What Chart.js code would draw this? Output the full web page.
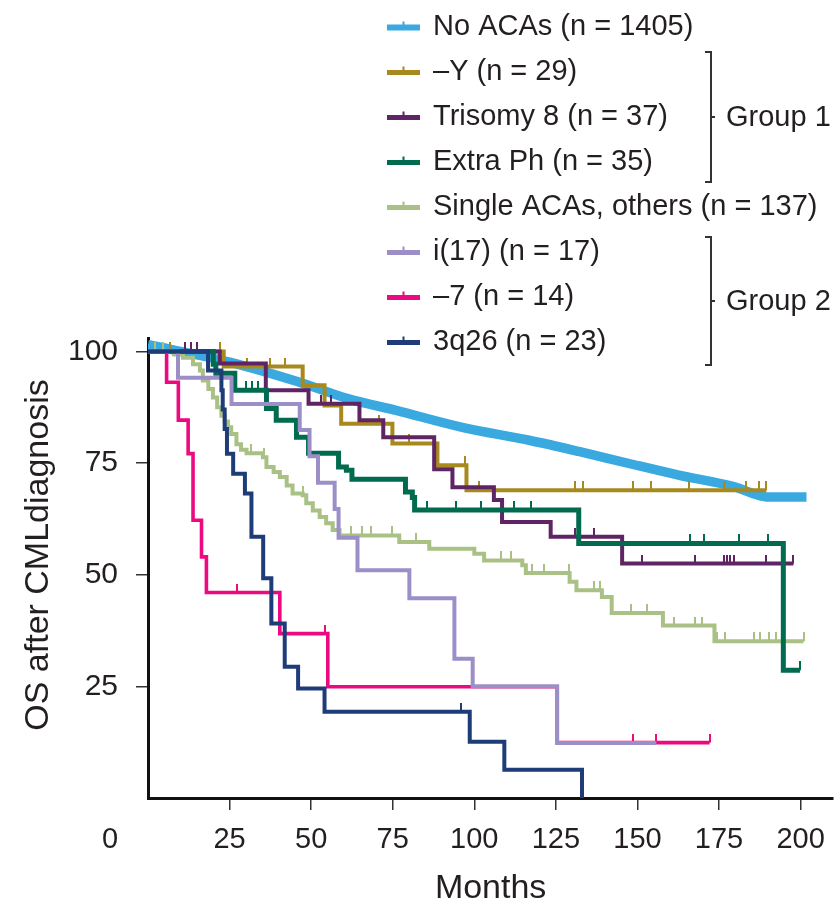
<!DOCTYPE html>
<html>
<head>
<meta charset="utf-8">
<script src="https://cdn.jsdelivr.net/npm/chart.js@4.4.1/dist/chart.umd.min.js"></script>
<style>
html,body{margin:0;padding:0;background:#fff;}
#wrap{width:838px;height:906px;position:relative;}
</style>
</head>
<body>
<div id="wrap"><canvas id="c" width="838" height="906"></canvas></div>
<script>
// ---------- text ----------
const seriesLabels = ['No ACAs (n = 1405)', '\u2013Y (n = 29)', 'Trisomy 8 (n = 37)', 'Extra Ph (n = 35)',
  'Single ACAs, others (n = 137)', 'i(17) (n = 17)', '\u20137 (n = 14)', '3q26 (n = 23)'];
const groupLabels = ['Group 1', 'Group 2'];
const xTickValues = [25, 50, 75, 100, 125, 150, 175, 200];
const yTickValues = [25, 50, 75, 100];
const originLabel = '0';
const xTitle = 'Months';
const yTitle = 'OS after CMLdiagnosis';

// ---------- data (months at which OS % takes the given value) ----------
const noAcaMonths = [0, 25, 45.5, 61.8, 76, 96.3, 116.8, 132, 147.4, 162.6, 180, 187, 190, 201.8];
const noAcaOS     = [101.5, 97.6, 93.3, 89.3, 86.8, 83.0, 80.1, 77.6, 74.9, 72.3, 69.6, 67.8, 67.4, 67.4];

const minusYMonths = [0, 23.2, 47.4, 54.1, 59.2, 74.9, 88.7, 97.6, 189.5];
const minusYOS     = [100, 96.6, 92.4, 87.9, 83.8, 79.4, 74.5, 68.9, 68.9];
const minusYCensor = [6.7, 22.0, 30.3, 37.3, 41.9, 70.9, 80.1, 97.0, 101.5, 131.0, 133.2, 148.5, 154.0, 165.8, 176.5, 183.2, 187.2, 189.5];

const tri8Months = [0, 22, 36.1, 49.2, 64.8, 72.1, 87.7, 93.3, 106, 108.5, 123.4, 145.3, 197.8];
const tri8OS     = [100, 97.3, 91.3, 88.3, 84.6, 80.8, 73.6, 69.6, 66.7, 61.8, 58.5, 52.5, 52.5];
const tri8Censor = [11.3, 13.3, 15, 53.1, 56.2, 131, 136.7, 151.3, 167.6, 176.4, 177.5, 178.5, 179.5, 189.5, 197.8];

const extraPhMonths = [0, 20.0, 20.8, 26.6, 36.3, 39.3, 45.5, 49.2, 58.4, 60.8, 62.5, 78.9, 81.0, 81.7, 132.0, 194.7, 199.8];
const extraPhOS     = [100, 97.1, 95.1, 91.3, 87.2, 84.6, 80.8, 77.2, 74.1, 73.4, 71.4, 68.5, 67.3, 64.5, 57.0, 28.6, 28.6];
const extraPhCensor = [30.1, 32, 33.6, 85.6, 94.3, 102, 112.2, 117.3, 166.2, 170.3, 181, 190, 199.8];

const singleMonths = [0, 8.0, 10.7, 13.8, 15.9, 16.8, 18.5, 19.9, 21.2, 22.5, 23.5, 24.5, 25.5, 27.1, 28.5, 30.2, 35.2, 36.3, 38.5, 40.4,
  42.5, 44.3, 47.4, 48.5, 50.5, 52.6, 54.6, 56.6, 58.7, 77.0, 86.2, 100.0, 103.0, 114.7, 115.8, 129.2, 131.3, 139.1, 142.1, 157.8, 173.6, 200.9];
const singleOS = [100, 99.3, 98.6, 97.1, 95.7, 93.5, 91.6, 89.7, 87.5, 85.6, 84.3, 83.0, 81.5, 79.2, 78.0, 77.2, 76.3, 74.1, 73.0, 71.9,
  70.0, 68.2, 67.8, 66.0, 64.4, 62.9, 61.5, 60.0, 58.8, 57.3, 55.8, 54.7, 53.2, 52.1, 50.4, 48.4, 46.5, 45.0, 41.4, 38.6, 35.1, 35.1];
const singleCensor = [2, 4.5, 31.7, 35.6, 47.4, 62.3, 65.7, 68.4, 74.9, 82.1, 108.1, 111.2, 117.7, 121.4, 129, 136.7, 138.5, 147.9, 152.9,
  161.1, 167.7, 169.7, 174.3, 176.9, 185.6, 187.6, 190.2, 192.6, 200.9];

const i17Months = [0, 9.2, 25.6, 46.5, 49.5, 52.1, 57.2, 58.4, 64.2, 80.1, 93.9, 99.5, 125.4, 155.8];
const i17OS     = [100, 94.1, 88.2, 82.4, 76.5, 70.6, 64.7, 58.3, 51.0, 44.7, 31.2, 25.0, 12.3, 12.3];

const minus7Months = [0, 5.7, 9.3, 12.3, 13.8, 16.4, 17.9, 40.4, 55.1, 125.4, 172.1];
const minus7OS     = [100, 93.1, 84.6, 77.1, 62.2, 54.0, 46.0, 36.8, 24.9, 12.4, 12.4];
const minus7Censor = [27.3, 54.2, 148.5, 155.8, 172.1];

const q26Months = [0, 18.4, 22.5, 22.9, 23.5, 24.2, 26.1, 29.7, 31.7, 35.3, 37.8, 41.9, 46.0, 54.1, 98.6, 109.2, 133.0];
const q26OS     = [100, 95.7, 91.3, 87.0, 82.6, 77.1, 72.6, 68.2, 58.5, 49.2, 39.1, 29.4, 24.5, 19.3, 12.6, 6.3, 0];
const q26Censor = [95.9];

// ---------- styles ----------
const seriesColors = ['#3AA9DF', '#A8891E', '#5E2463', '#006B4F', '#A9C184', '#9C8FC8', '#EB0A80', '#1E3C78'];
const FONT = '"Liberation Sans", Arial, Helvetica, sans-serif';
const TEXT = '#231f20';

function toPts(ms, os) { return ms.map((m, i) => ({x: m, y: os[i]})); }
function survAt(ms, os, t) { let v = os[0]; for (let i = 0; i < ms.length; i++) { if (ms[i] <= t) v = os[i]; } return v; }
function censorMark(color) {
  const c = document.createElement('canvas'); c.width = 2; c.height = 18;
  const g = c.getContext('2d'); g.fillStyle = color; g.fillRect(0, 0, 2, 9); return c;
}

const kmSeries = [
  {ms: minusYMonths, os: minusYOS, cs: minusYCensor, ci: 1, w: 4, order: 7},
  {ms: tri8Months, os: tri8OS, cs: tri8Censor, ci: 2, w: 4, order: 6},
  {ms: extraPhMonths, os: extraPhOS, cs: extraPhCensor, ci: 3, w: 5, order: 5},
  {ms: singleMonths, os: singleOS, cs: singleCensor, ci: 4, w: 4, order: 8},
  {ms: i17Months, os: i17OS, cs: [], ci: 5, w: 4, order: 3},
  {ms: minus7Months, os: minus7OS, cs: minus7Censor, ci: 6, w: 3.6, order: 4},
  {ms: q26Months, os: q26OS, cs: q26Censor, ci: 7, w: 4, order: 2}
];

const datasets = [{
  label: seriesLabels[0], data: toPts(noAcaMonths, noAcaOS), borderColor: seriesColors[0],
  borderWidth: 9.5, pointRadius: 0, fill: false, cubicInterpolationMode: 'monotone', order: 9
}];
kmSeries.forEach(s => {
  datasets.push({
    label: seriesLabels[s.ci], data: toPts(s.ms, s.os), borderColor: seriesColors[s.ci],
    borderWidth: s.w, stepped: 'before', pointRadius: 0, fill: false, order: s.order
  });
  if (s.cs.length) {
    datasets.push({
      label: seriesLabels[s.ci] + ' censored', data: s.cs.map(t => ({x: t, y: survAt(s.ms, s.os, t)})),
      showLine: false, pointStyle: censorMark(seriesColors[s.ci]), pointRadius: 3, pointHoverRadius: 3,
      borderColor: seriesColors[s.ci], backgroundColor: seriesColors[s.ci], order: s.order - 0.5
    });
  }
});

const annotPlugin = {
  id: 'kmAnnot',
  afterDraw(chart) {
    const ctx = chart.ctx;
    const xs = chart.scales.x;
    ctx.save();
    // legend
    ctx.font = '29px ' + FONT;
    ctx.textBaseline = 'alphabetic';
    ctx.textAlign = 'left';
    seriesLabels.forEach((lab, i) => {
      const base = 35 + i * 45;
      const ly = base - 7.5;
      ctx.fillStyle = seriesColors[i];
      ctx.fillRect(387, ly - (i === 0 ? 3 : 2.5), 33, i === 0 ? 6 : 5);
      ctx.fillRect(402.5, ly - 6, 2, 4);
      ctx.fillStyle = TEXT;
      ctx.fillText(lab, 433, base);
    });
    // group brackets
    ctx.strokeStyle = '#333';
    ctx.lineWidth = 2;
    const brackets = [[52, 182, 126], [237, 365, 310]];
    brackets.forEach((b, k) => {
      ctx.beginPath();
      ctx.moveTo(705, b[0]); ctx.lineTo(711, b[0]); ctx.lineTo(711, b[1]); ctx.lineTo(705, b[1]);
      const mid = (b[0] + b[1]) / 2;
      ctx.moveTo(711, mid); ctx.lineTo(715, mid);
      ctx.stroke();
      ctx.fillStyle = TEXT;
      ctx.fillText(groupLabels[k], 726, b[2]);
    });
    // origin label
    ctx.font = '29px ' + FONT;
    ctx.textAlign = 'center';
    ctx.textBaseline = 'middle';
    ctx.fillText(originLabel, xs.getPixelForValue(0) - 38, 840);
    // axis titles
    ctx.font = '34px ' + FONT;
    ctx.textBaseline = 'alphabetic';
    ctx.fillText(xTitle, (chart.chartArea.left + chart.chartArea.right) / 2, 898);
    ctx.translate(48, 555);
    ctx.rotate(-Math.PI / 2);
    ctx.fillText(yTitle, 0, 0);
    ctx.restore();
  }
};

new Chart(document.getElementById('c'), {
  type: 'line',
  data: {datasets},
  options: {
    responsive: false,
    animation: false,
    devicePixelRatio: 1,
    events: [],
    layout: {padding: {top: 338, right: 2, left: 0, bottom: 0}},
    plugins: {legend: {display: false}, tooltip: {enabled: false}},
    scales: {
      x: {
        type: 'linear', min: 0, max: 210,
        afterBuildTicks: s => { s.ticks = xTickValues.map(v => ({value: v})); },
        afterFit: s => { s.height = 108; },
        border: {display: true, color: '#111', width: 3},
        grid: {display: true, drawOnChartArea: false, drawTicks: true, tickLength: 12, color: '#333', lineWidth: 1.5},
        ticks: {font: {family: FONT, size: 29}, color: TEXT, padding: 13, maxRotation: 0, autoSkip: false}
      },
      y: {
        type: 'linear', min: 0, max: 103,
        afterBuildTicks: s => { s.ticks = yTickValues.map(v => ({value: v})); },
        afterFit: s => { s.width = 148; },
        border: {display: true, color: '#111', width: 3},
        grid: {display: true, drawOnChartArea: false, drawTicks: true, tickLength: 12, color: '#333', lineWidth: 1.5},
        ticks: {font: {family: FONT, size: 30}, color: TEXT, padding: 18, autoSkip: false}
      }
    }
  },
  plugins: [annotPlugin]
});
</script>
</body>
</html>
